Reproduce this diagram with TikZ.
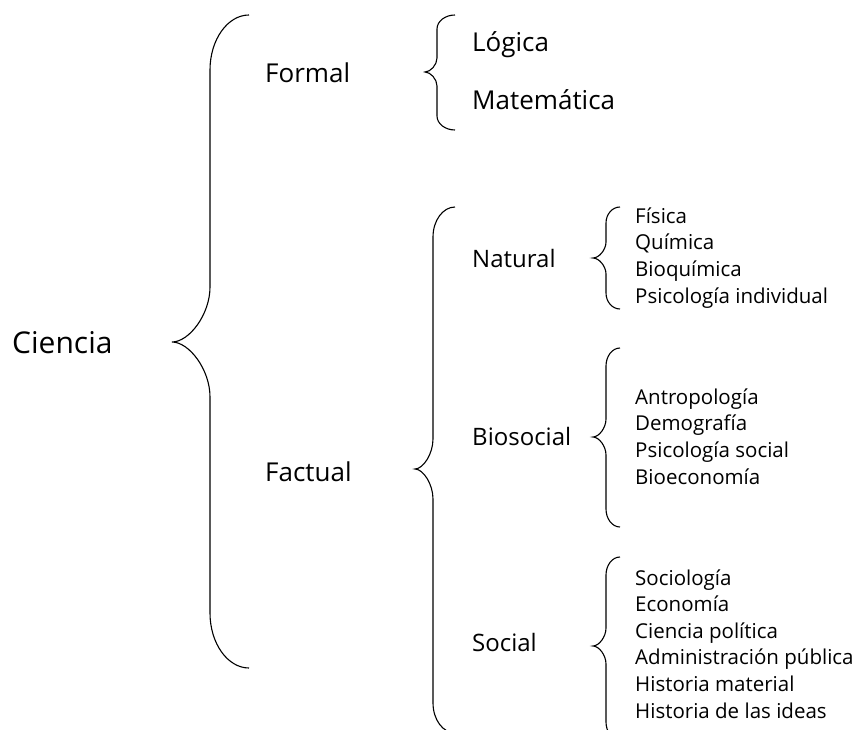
\documentclass[tikz,border=0pt]{standalone}
\usepackage{fontspec}
\setmainfont{Open Sans}

% llave: #1,#2 punta; #3 x de la linea; #4 x de los extremos; #5 y arriba; #6 y abajo; #7 alto de las curvas
\newcommand\llave[7]{%
  \draw[trazo] (#4,#5) .. controls ({#3+0.45*(#4-#3)},#5) and (#3,{#5+0.45*#7}) .. (#3,{#5+#7})
    -- (#3,{#2-#7}) .. controls (#3,{#2-0.5*#7}) and ({#1+0.45*(#3-#1)},#2) .. (#1,#2)
    .. controls ({#1+0.45*(#3-#1)},#2) and (#3,{#2+0.5*#7}) .. (#3,{#2+#7})
    -- (#3,{#6-#7}) .. controls (#3,{#6-0.45*#7}) and ({#3+0.45*(#4-#3)},#6) .. (#4,#6);}

\tikzset{
  trazo/.style={line width=1.1pt},
  raiz/.style={anchor=base west,inner sep=0pt,font=\fontsize{30}{31}\selectfont},
  rama/.style={anchor=base west,inner sep=0pt,font=\fontsize{26}{28}\selectfont},
  subrama/.style={anchor=base west,inner sep=0pt,font=\fontsize{24}{26}\selectfont},
  hoja/.style={anchor=base west,inner sep=0pt,font=\fontsize{20.5}{22}\selectfont}
}

\begin{document}
\begin{tikzpicture}[x=1pt,y=-1pt]
  \useasboundingbox (0,0) rectangle (864,730);

  \node[raiz] (ciencia) at (12,353) {Ciencia};
  \llave{172}{342}{210}{249}{15}{668}{55}

  \node[rama] (formal) at (265,83) {Formal};
  \node[rama] (factual) at (265,481) {Factual};
  \llave{425}{72}{437}{455}{15}{130}{14}
  \llave{415}{469}{433}{455}{207}{733}{30}

  \node[rama] (logica) at (472,52) {Lógica};
  \node[rama] (matematica) at (472,110) {Matemática};

  \node[subrama] (natural) at (472,267) {Natural};
  \node[subrama] (biosocial) at (472,445) {Biosocial};
  \node[subrama] (social) at (472,651) {Social};
  \llave{593}{258}{606}{620}{207}{309}{16}
  \llave{593}{437}{606}{620}{348}{527}{18}
  \llave{593}{646}{606}{620}{557}{740}{18}

  \foreach \t [count=\i] in {Física,Química,Bioquímica,Psicología individual}
    \node[hoja] (nat\i) at (635,{223+26.7*(\i-1)}) {\t};
  \foreach \t [count=\i] in {Antropología,Demografía,Psicología social,Bioeconomía}
    \node[hoja] (bio\i) at (635,{404+26.7*(\i-1)}) {\t};
  \foreach \t [count=\i] in {Sociología,Economía,Ciencia política,Administración pública,Historia material,Historia de las ideas}
    \node[hoja] (soc\i) at (635,{585+26.6*(\i-1)}) {\t};
\end{tikzpicture}
\end{document}
